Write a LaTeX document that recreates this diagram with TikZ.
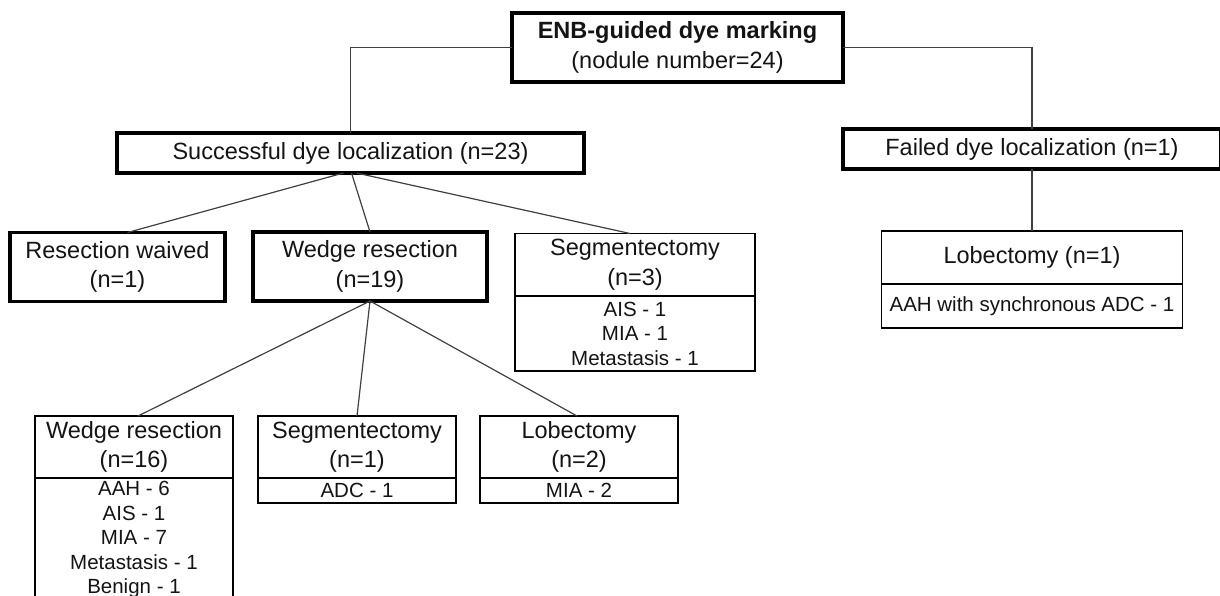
\documentclass[tikz,border=0pt]{standalone}
\usepackage{fontspec}
\setmainfont{Liberation Sans}
\begin{document}
\begin{tikzpicture}[x=1pt,y=-1pt,
  every node/.style={inner sep=0pt, outer sep=0pt, align=center, text=black!92},
  hd/.style={font=\fontsize{23.5}{29.5}\selectfont},
  ls/.style={font=\fontsize{20.5}{24.5}\selectfont},
  thickbox/.style={draw=black, line width=3.2pt, rectangle, hd},
  thinbox/.style={draw=black, line width=1.8pt, rectangle},
  conn/.style={draw=black!75, line width=1.2pt}]
\useasboundingbox (0,0) rectangle (1220,595);
\fill[white] (0,0) rectangle (1220,595);
% level 0
\node[thickbox, minimum width=331pt, minimum height=69pt] (enb) at (677.5,47.5)
  {{\bfseries ENB-guided dye marking}\\(nodule number=24)};
% level 1
\node[thickbox, minimum width=467pt, minimum height=40pt] (suc) at (350.5,153)
  {Successful dye localization (n=23)};
\node[thickbox, minimum width=378pt, minimum height=40pt] (fail) at (1032,149)
  {Failed dye localization (n=1)};
% level 2
\node[thickbox, minimum width=215pt, minimum height=69pt] (rw) at (117.5,267)
  {Resection waived\\(n=1)};
\node[thickbox, minimum width=234pt, minimum height=69pt] (w19) at (370,266.5)
  {Wedge resection\\(n=19)};
\node[thinbox, hd, minimum width=240pt, minimum height=62pt] (seg3) at (635,264.5)
  {Segmentectomy\\(n=3)};
\node[thinbox, ls, minimum width=240pt, minimum height=75pt] (seg3l) at (635,333.5)
  {AIS - 1\\MIA - 1\\Metastasis - 1};
\node[thinbox, hd, minimum width=301pt, minimum height=53pt] (lob1) at (1032,257.5)
  {Lobectomy (n=1)};
\node[thinbox, ls, minimum width=301pt, minimum height=44pt] (lob1l) at (1032,306)
  {AAH with synchronous ADC - 1};
% level 3
\node[thinbox, hd, minimum width=198pt, minimum height=62pt] (w16) at (134,447)
  {Wedge resection\\(n=16)};
\node[thinbox, ls, minimum width=198pt, minimum height=123.5pt] (w16l) at (134,539.75)
  {AAH - 6\\AIS - 1\\MIA - 7\\Metastasis - 1\\Benign - 1};
\node[thinbox, hd, minimum width=198pt, minimum height=62pt] (seg1) at (357,447)
  {Segmentectomy\\(n=1)};
\node[thinbox, ls, minimum width=198pt, minimum height=25pt] (seg1l) at (357,490.5)
  {ADC - 1};
\node[thinbox, hd, minimum width=198pt, minimum height=62pt] (lob2) at (579,447)
  {Lobectomy\\(n=2)};
\node[thinbox, ls, minimum width=198pt, minimum height=25pt] (lob2l) at (579,490.5)
  {MIA - 2};
% connectors
\draw[conn] (enb.west) -| (suc.north);
\draw[conn] (enb.east) -| (fail.north);
\draw[conn] (fail.south) -- (lob1.north);
\draw[conn] ([xshift=-7pt]suc.south) -- ([xshift=10pt]rw.north);
\draw[conn] ([xshift=1pt]suc.south) -- (w19.north);
\draw[conn] ([xshift=6pt]suc.south) -- ([xshift=-5pt]seg3.north);
\draw[conn] (w19.south) -- ([xshift=4pt]w16.north);
\draw[conn] (w19.south) -- (seg1.north);
\draw[conn] (w19.south) -- ([xshift=-2pt]lob2.north);
\end{tikzpicture}
\end{document}
